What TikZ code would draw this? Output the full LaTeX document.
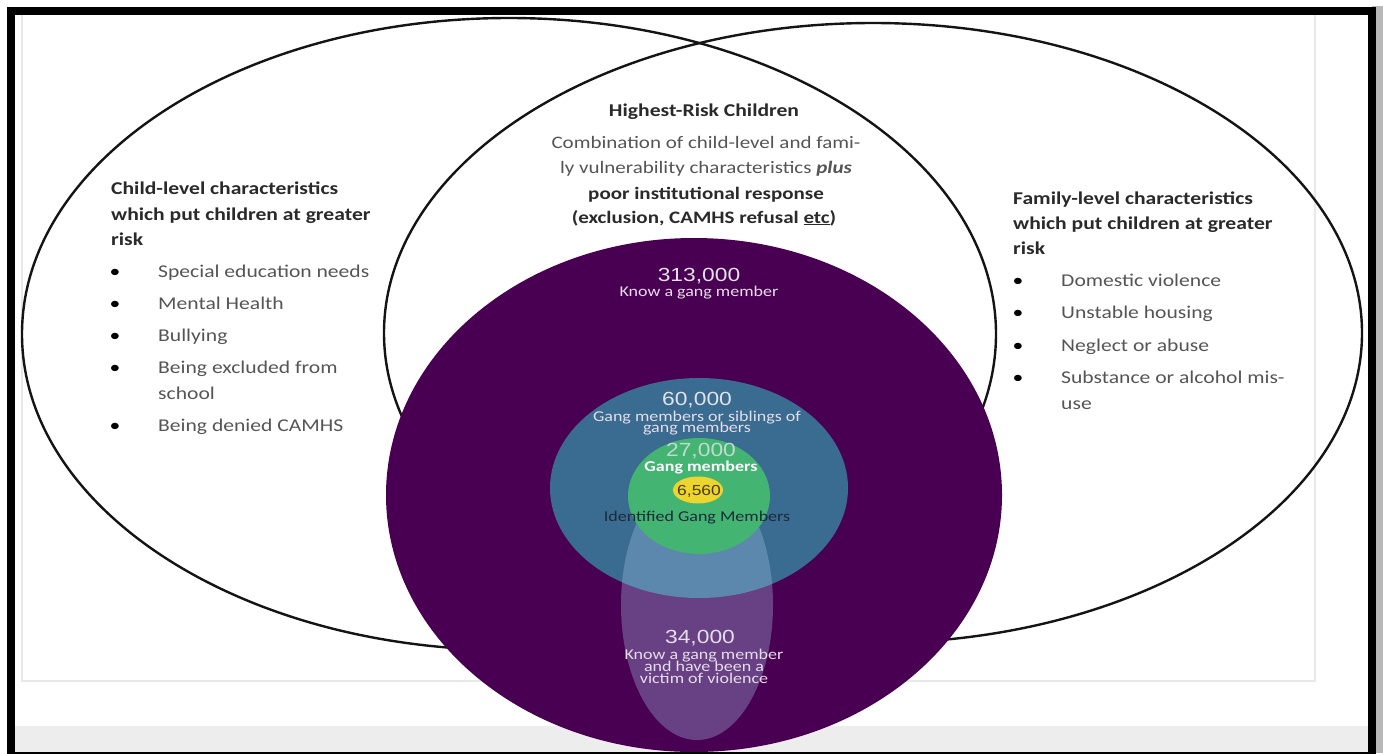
\documentclass[tikz,border=0pt]{standalone}
\usepackage{fontspec}
\setmainfont{Carlito}[FakeStretch=1.2]
\newfontfamily\numfont{Liberation Sans}[FakeStretch=1.2]
\usetikzlibrary{shapes.geometric}
\definecolor{purp}{HTML}{4A0052}
\definecolor{bluec}{HTML}{3A6B90}
\definecolor{greenc}{HTML}{44B472}
\definecolor{yellowc}{HTML}{ECD52E}
\definecolor{lightc}{HTML}{A8C8EE}
\definecolor{titlec}{HTML}{2A2A2A}
\definecolor{bodyc}{HTML}{555555}
\definecolor{numc}{HTML}{E2E2E6}
\definecolor{labc}{HTML}{E6DDEA}
\definecolor{navyc}{HTML}{1C2B3A}
\definecolor{brownc}{HTML}{4B3A00}
\definecolor{venc}{HTML}{141414}
\begin{document}
\begin{tikzpicture}[x=1pt,y=-1pt,
  ven/.style={draw=venc, line width=2.4pt},
  ttl/.style={font=\fontsize{18}{25}\selectfont\bfseries, text=titlec, anchor=base west, inner sep=0pt},
  bod/.style={font=\fontsize{18}{25}\selectfont, text=bodyc, anchor=base west, inner sep=0pt},
  bul/.style={font=\fontsize{18}{25}\selectfont, text=black, anchor=base, inner sep=0pt},
  ctitle/.style={font=\fontsize{18}{25}\selectfont\bfseries, text=titlec, anchor=base, inner sep=0pt},
  cbody/.style={font=\fontsize{17.5}{25}\selectfont, text=bodyc, anchor=base, inner sep=0pt},
  cbold/.style={font=\fontsize{17.5}{25}\selectfont\bfseries, text=titlec, anchor=base, inner sep=0pt},
  num/.style={font=\numfont\fontsize{19}{22}\selectfont, text=numc, anchor=base, inner sep=0pt},
  lab/.style={font=\fontsize{15}{11}\selectfont, text=labc, anchor=base, inner sep=0pt}
]
\useasboundingbox (0,0) rectangle (1383,753);
\fill[white] (0,0) rectangle (1383,753);
% right shadow
\fill[black!28] (1372,6) rectangle (1383,753);
% bottom gray band
\fill[black!7] (14,726) rectangle (1372,753);
% panel
\draw[black!9, line width=1.5pt] (22,10) rectangle (1315,681);
% venn ellipses
\draw[ven] (509,334) ellipse [x radius=487, y radius=316];
\draw[ven] (873,333) ellipse [x radius=489, y radius=310];
% nested circles
\fill[purp] (694,495) ellipse [x radius=308, y radius=257];
\fill[bluec] (699,488) ellipse [x radius=149, y radius=110];
\fill[lightc, fill opacity=0.32] (697,605) ellipse [x radius=76, y radius=135];
\fill[greenc] (699,496) ellipse [x radius=71, y radius=58];
\fill[yellowc] (698,490) ellipse [x radius=25, y radius=13.5];
% top text
\node[ctitle] (h1) at (704,116) {Highest-Risk Children};
\node[cbody] (h2) at (706,148) {Combination of child-level and fami-};
\node[cbody] (h3) at (706,173) {ly vulnerability characteristics \textbf{\textit{plus}}};
\node[cbold] (h4) at (706,199) {poor institutional response};
\node[cbold] (h5) at (704,223) {(exclusion, CAMHS refusal \underline{etc})};
% left text
\node[ttl] (lt1) at (111,194) {Child-level characteristics};
\node[ttl] (lt2) at (111,220) {which put children at greater};
\node[ttl] (lt3) at (111,245) {risk};
\node[bul] (lb1) at (115,277.5) {•};
\node[bod] (li1) at (158,277.5) {Special education needs};
\node[bul] (lb2) at (115,309.5) {•};
\node[bod] (li2) at (158,309.5) {Mental Health};
\node[bul] (lb3) at (115,341.5) {•};
\node[bod] (li3) at (158,341.5) {Bullying};
\node[bul] (lb4) at (115,373.5) {•};
\node[bod] (li4) at (158,373.5) {Being excluded from};
\node[bod] (li4b) at (158,399.5) {school};
\node[bul] (lb5) at (115,431.5) {•};
\node[bod] (li5) at (158,431.5) {Being denied CAMHS};
% right text
\node[ttl] (rt1) at (1013,204) {Family-level characteristics};
\node[ttl] (rt2) at (1013,229) {which put children at greater};
\node[ttl] (rt3) at (1013,254) {risk};
\node[bul] (rb1) at (1018,286.5) {•};
\node[bod] (ri1) at (1061,286.5) {Domestic violence};
\node[bul] (rb2) at (1018,318.5) {•};
\node[bod] (ri2) at (1061,318.5) {Unstable housing};
\node[bul] (rb3) at (1018,351.5) {•};
\node[bod] (ri3) at (1061,351.5) {Neglect or abuse};
\node[bul] (rb4) at (1018,383.5) {•};
\node[bod] (ri4) at (1061,383.5) {Substance or alcohol mis-};
\node[bod] (ri4b) at (1061,409.5) {use};
% circle labels
\node[num] (n1) at (699,281) {313,000};
\node[lab] (k1) at (699,296) {Know a gang member};
\node[num] (n2) at (697,405) {60,000};
\node[lab] (k2) at (697,421) {Gang members or siblings of};
\node[lab] (k2b) at (697,432) {gang members};
\node[num, text=numc!80!greenc] (n3) at (701,456) {27,000};
\node[lab, text=white, font=\fontsize{15}{11}\selectfont\bfseries] (k3) at (701,471) {Gang members};
\node[num, text=brownc, font=\numfont\fontsize{14.5}{16}\selectfont] (n4) at (699,495) {6,560};
\node[lab, text=navyc] (k4) at (697,521) {Identified Gang Members};
\node[num, text=labc] (n5) at (700,643) {34,000};
\node[lab] (k5) at (704,659) {Know a gang member};
\node[lab] (k5b) at (704,671) {and have been a};
\node[lab] (k5c) at (704,683) {victim of violence};
% frame
\draw[line width=8pt] (11,10.5) rectangle (1372,756);
\end{tikzpicture}
\end{document}
